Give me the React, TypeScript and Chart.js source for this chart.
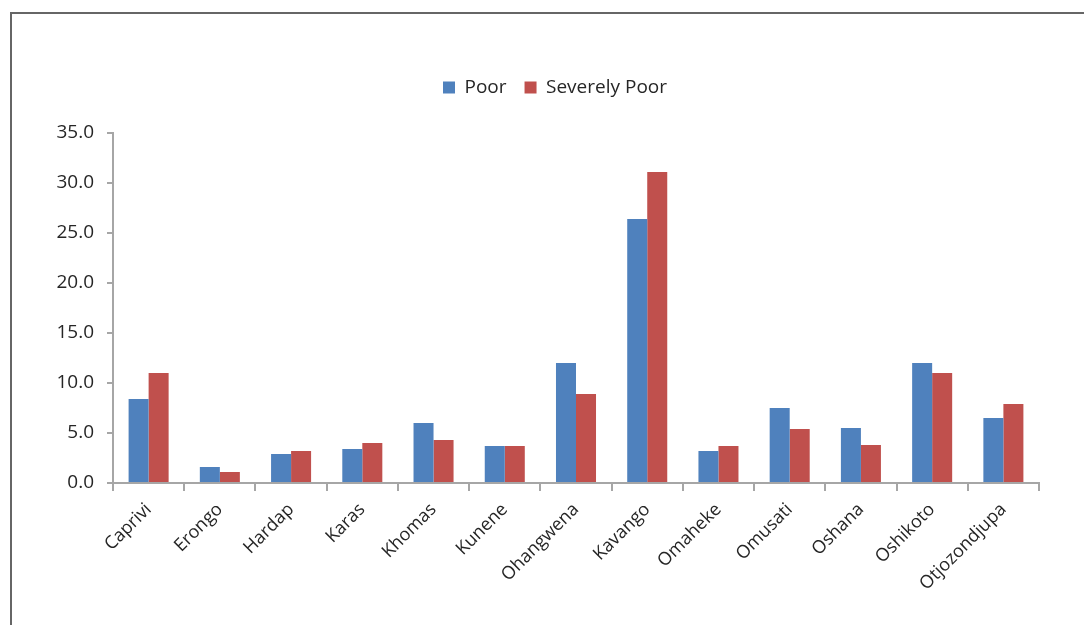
import React, { useEffect, useRef } from "react";
import { Chart, registerables } from "chart.js";

Chart.register(...registerables);

const regions = [
  "Caprivi", "Erongo", "Hardap", "Karas", "Khomas", "Kunene", "Ohangwena",
  "Kavango", "Omaheke", "Omusati", "Oshana", "Oshikoto", "Otjozondjupa",
];
const poor = [8.4, 1.6, 2.9, 3.4, 6.0, 3.7, 12.0, 26.4, 3.2, 7.5, 5.5, 12.0, 6.5];
const severelyPoor = [11.0, 1.1, 3.2, 4.0, 4.3, 3.7, 8.9, 31.1, 3.7, 5.4, 3.8, 11.0, 7.9];
const yTicks = [0, 5, 10, 15, 20, 25, 30, 35];

const FONT = "'Open Sans', sans-serif";
const AXIS_GREY = "#a6a6a6";

// Leaves room under the legend and nudges it to the right of the canvas centre.
const legendPlacement = {
  id: "legendPlacement",
  beforeUpdate(chart: any) {
    const legend = chart.legend;
    if (legend && !legend.__gapPatched) {
      const fit = legend.fit;
      legend.fit = function () {
        fit.call(this);
        this.height += 26;
      };
      legend.__gapPatched = true;
    }
  },
  afterLayout(chart: any) {
    if (chart.legend) chart.legend.left = 71;
  },
};

export default function App() {
  const canvasRef = useRef<HTMLCanvasElement | null>(null);

  useEffect(() => {
    const canvas = canvasRef.current;
    if (!canvas) return;
    const chart = new Chart(canvas, {
      type: "bar",
      data: {
        labels: regions,
        datasets: [
          { label: "Poor", data: poor, backgroundColor: "#4F81BD" },
          { label: "Severely Poor", data: severelyPoor, backgroundColor: "#C0504D" },
        ],
      },
      options: {
        animation: false,
        responsive: false,
        maintainAspectRatio: false,
        layout: { padding: { left: 0, right: 45, top: 60, bottom: 0 } },
        datasets: {
          bar: { categoryPercentage: 0.562, barPercentage: 1 },
        },
        plugins: {
          tooltip: { enabled: false },
          legend: {
            position: "top",
            labels: {
              boxWidth: 12,
              boxHeight: 12,
              padding: 18,
              color: "#262626",
              font: { family: FONT, size: 19 },
            },
          },
        },
        scales: {
          x: {
            afterFit(scale: any) {
              scale.height = 142;
            },
            border: { display: true, color: AXIS_GREY, width: 2 },
            grid: {
              display: true,
              drawOnChartArea: false,
              drawTicks: true,
              tickLength: 8,
              color: AXIS_GREY,
              lineWidth: 2,
              offset: true,
            },
            ticks: {
              minRotation: 45,
              maxRotation: 45,
              padding: 8,
              color: "#262626",
              font: { family: FONT, size: 18 },
            },
          },
          y: {
            min: 0,
            max: 35,
            afterFit(scale: any) {
              scale.width = 113;
            },
            afterBuildTicks(scale: any) {
              scale.ticks = yTicks.map((v) => ({ value: v }));
            },
            border: { display: true, color: AXIS_GREY, width: 2 },
            grid: {
              display: true,
              drawOnChartArea: false,
              drawTicks: true,
              tickLength: 6,
              color: AXIS_GREY,
              lineWidth: 2,
            },
            ticks: {
              padding: 13,
              color: "#262626",
              font: { family: FONT, size: 19 },
              callback: (v: any) => Number(v).toFixed(1),
            },
          },
        },
      },
      plugins: [legendPlacement],
    });
    return () => chart.destroy();
  }, []);

  return (
    <div style={{ position: "absolute", left: 0, top: 0, width: 1084, height: 625, background: "#fff" }}>
      <div
        style={{
          position: "absolute",
          left: 10,
          top: 12,
          right: 0,
          bottom: 0,
          borderTop: "2px solid #666",
          borderLeft: "2px solid #666",
        }}
      />
      <canvas ref={canvasRef} width={1084} height={625} style={{ position: "absolute", left: 0, top: 0 }} />
    </div>
  );
}
